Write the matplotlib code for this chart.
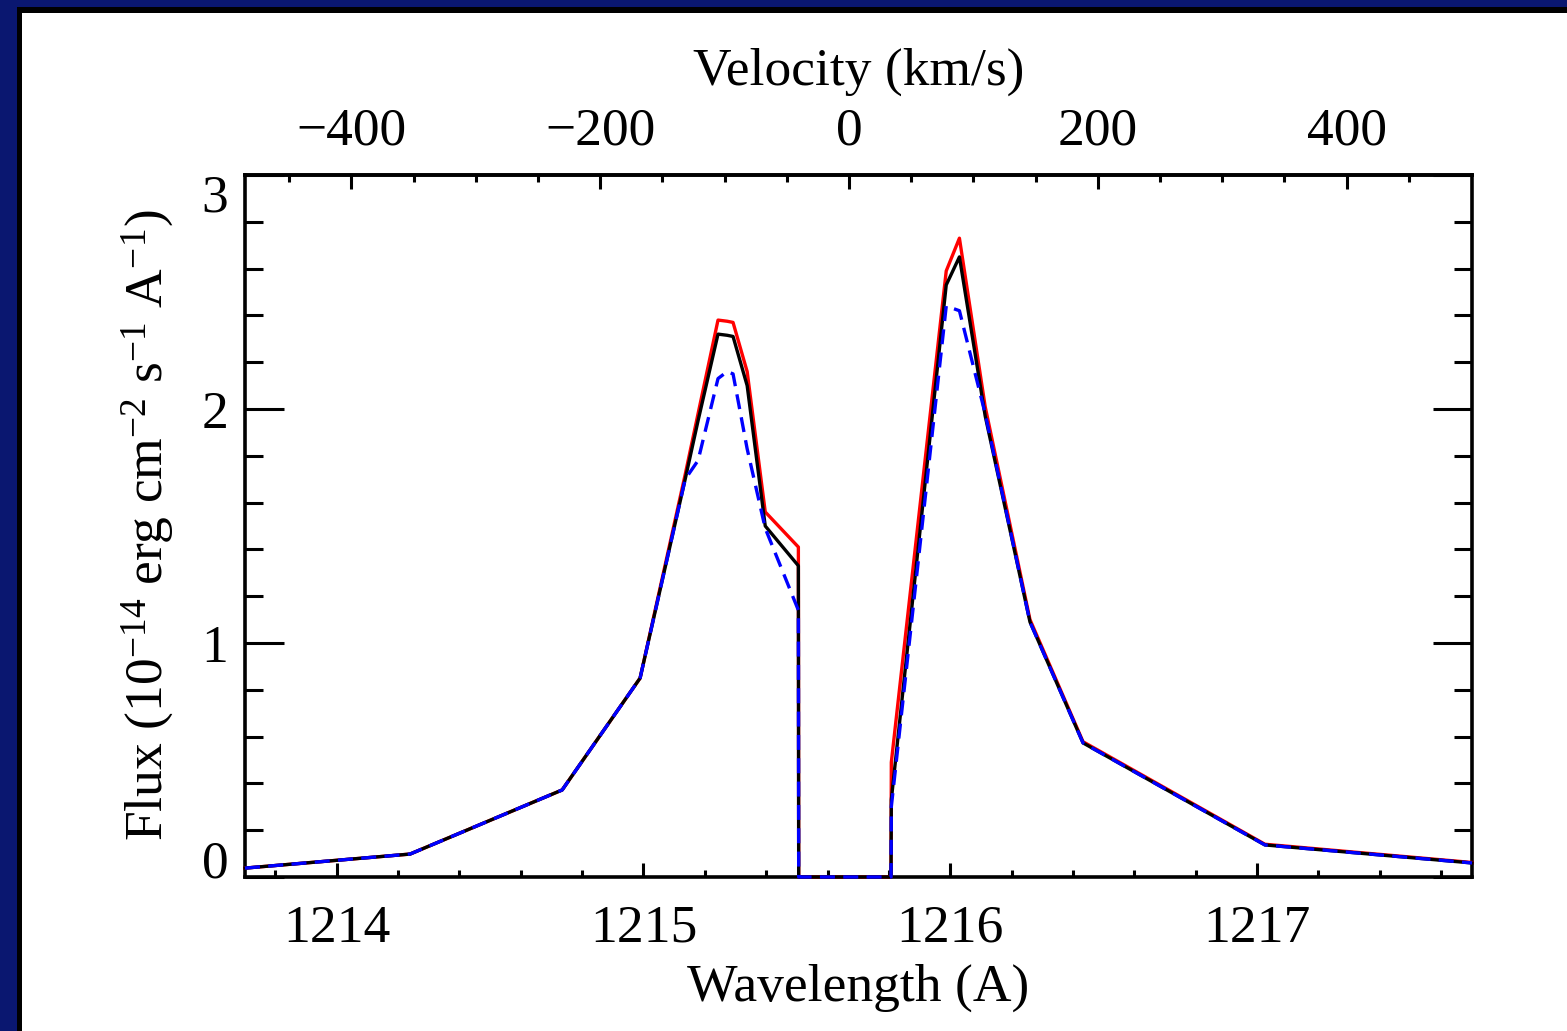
import matplotlib
matplotlib.use("Agg")
import matplotlib.pyplot as plt
from matplotlib.patches import Rectangle
from matplotlib.ticker import MultipleLocator, FixedLocator

# Lyman alpha profile, flux in 1e-14 erg/cm2/s/A
wave = [1213.701, 1214.239, 1214.735, 1214.989, 1215.136, 1215.178, 1215.243,
        1215.273, 1215.292, 1215.338, 1215.397, 1215.505, 1215.506, 1215.807,
        1215.808, 1215.987, 1216.030, 1216.114, 1216.260, 1216.433, 1217.026,
        1217.701]
flux_black = [0.038, 0.098, 0.372, 0.85, 1.70, 1.95, 2.32, 2.315, 2.31, 2.10,
              1.50, 1.33, 0.0, 0.0, 0.33, 2.53, 2.65, 1.97, 1.09, 0.573, 0.137,
              0.06]
flux_red = [0.038, 0.098, 0.372, 0.85, 1.72, 1.98, 2.38, 2.375, 2.37, 2.16,
            1.56, 1.41, 0.0, 0.0, 0.49, 2.59, 2.73, 2.01, 1.10, 0.578, 0.14,
            0.062]
flux_blue = [0.038, 0.098, 0.372, 0.85, 1.70, 1.78, 2.13, 2.16, 2.15, 1.83,
             1.49, 1.14, 0.0, 0.0, 0.30, 2.44, 2.42, 1.98, 1.09, 0.573, 0.137,
             0.06]

y_ticks = [0, 1, 2, 3]
v_ticks = [-400, -200, 0, 200, 400]
v_minor = [-450, -350, -300, -250, -150, -100, -50, 50, 100, 150, 250, 300, 350, 450]

LYA = 1215.67
C_KMS = 299792.458

plt.rcParams["font.family"] = ["Liberation Serif", "DejaVu Serif"]
plt.rcParams["mathtext.fontset"] = "custom"
plt.rcParams["mathtext.rm"] = "Liberation Serif"
plt.rcParams["mathtext.it"] = "Liberation Serif:italic"
FS = 38.5

W, H = 1567, 1031
fig = plt.figure(figsize=(W / 100, H / 100), dpi=100)

# slide frame (navy strips and black edge)
navy = "#0a1770"
fig.add_artist(Rectangle((0, 0), 16.5 / W, 1, transform=fig.transFigure, color=navy, lw=0))
fig.add_artist(Rectangle((0, 1 - 7.5 / H), 1, 7.5 / H, transform=fig.transFigure, color=navy, lw=0))
fig.add_artist(Rectangle((16.5 / W, 0), 5 / W, 1 - 7.5 / H, transform=fig.transFigure, color="black", lw=0))
fig.add_artist(Rectangle((16.5 / W, 1 - 12.5 / H), 1, 5 / H, transform=fig.transFigure, color="black", lw=0))

ax = fig.add_axes([245 / W, 1 - 877 / H, (1472 - 245) / W, (877 - 175) / H])

ax.plot(wave, flux_red, color="red", lw=2.4, zorder=3, clip_on=False)
ax.plot(wave, flux_black, color="black", lw=2.4, zorder=4, clip_on=False)
ax.plot(wave, flux_blue, color="blue", lw=2.4, ls=(0, (4.5, 2.5)), zorder=5, clip_on=False)

ax.set_xlim(1213.701, 1217.701)
ax.set_ylim(0, 3)

for s in ax.spines.values():
    s.set_linewidth(2.6)

ax.xaxis.set_major_locator(MultipleLocator(1))
ax.xaxis.set_minor_locator(MultipleLocator(0.2))
ax.yaxis.set_major_locator(FixedLocator(y_ticks))
ax.yaxis.set_minor_locator(MultipleLocator(0.2))
ax.tick_params(axis="x", which="both", direction="in", top=False, bottom=True,
               width=2.2, labelsize=FS, pad=20)
ax.tick_params(axis="x", which="major", length=10)
ax.tick_params(axis="x", which="minor", length=5)
ax.tick_params(axis="y", which="both", direction="in", left=True, right=True,
               width=2.2, labelsize=FS, pad=12)
ax.tick_params(axis="y", which="major", length=28)
ax.tick_params(axis="y", which="minor", length=13)

# IDL style: end labels kept inside the axis range
yt = ax.yaxis.get_major_ticks()
yt[0].label1.set_va("baseline")
yt[-1].label1.set_va("top")


def lam2v(lam):
    return (lam - LYA) / LYA * C_KMS


def v2lam(v):
    return LYA * (1 + v / C_KMS)


sec = ax.secondary_xaxis("top", functions=(lam2v, v2lam))
sec.xaxis.set_major_locator(FixedLocator(v_ticks))
sec.xaxis.set_minor_locator(FixedLocator(v_minor))
sec.tick_params(axis="x", which="both", direction="in", width=2.2, labelsize=FS, pad=14)
sec.tick_params(axis="x", which="major", length=10)
sec.tick_params(axis="x", which="minor", length=5)
sec.spines["top"].set_linewidth(2.6)

ax.set_xlabel("Wavelength (A)", fontsize=FS)
ax.xaxis.label.set_va("center")
ax.xaxis.set_label_coords(0.5, (877 - 988) / 702)

fig.text((245 + 1227 * 0.5) / W, 1 - 72 / H, "Velocity (km/s)", fontsize=FS,
         ha="center", va="center")

ax.set_ylabel(r"Flux (10$^{-14}$ erg cm$^{-2}$ s$^{-1}$ A$^{-1}$)", fontsize=FS)
ax.yaxis.label.set_va("center")
ax.yaxis.set_label_coords((148 - 245) / 1227, (877 - 525) / 702)

fig.savefig("out.png", dpi=100)
